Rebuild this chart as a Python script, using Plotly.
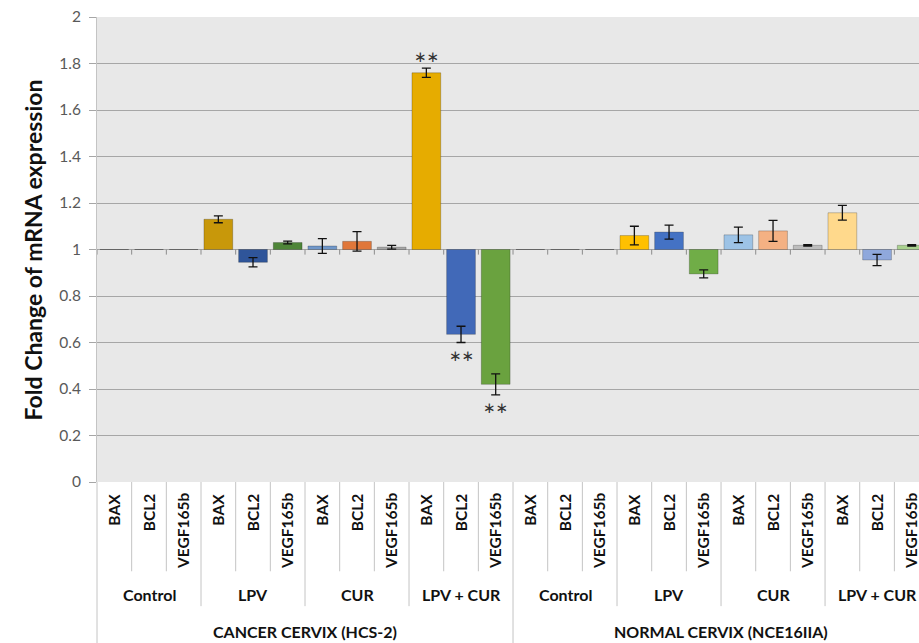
import plotly.graph_objects as go

# ---------------- data ----------------
cells = ["CANCER CERVIX (HCS-2)", "NORMAL CERVIX (NCE16IIA)"]
treatments = ["Control", "LPV", "CUR", "LPV + CUR"]
genes = ["BAX", "BCL2", "VEGF165b"]

cancer_values = [1.00, 1.00, 1.00,
                 1.13, 0.945, 1.03,
                 1.015, 1.035, 1.01,
                 1.76, 0.635, 0.42]
cancer_errors = [0.0, 0.0, 0.0,
                 0.015, 0.02, 0.006,
                 0.032, 0.042, 0.008,
                 0.02, 0.035, 0.045]
normal_values = [1.00, 1.00, 1.00,
                 1.06, 1.075, 0.895,
                 1.063, 1.08, 1.018,
                 1.158, 0.955, 1.018]
normal_errors = [0.0, 0.0, 0.0,
                 0.04, 0.03, 0.017,
                 0.033, 0.045, 0.003,
                 0.032, 0.024, 0.003]
cancer_sig = ["", "", "", "", "", "", "", "", "", "∗∗", "∗∗", "∗∗"]
normal_sig = ["", "", "", "", "", "", "", "", "", "", "", ""]

cancer_colors = ["#BF9000", "#2F5597", "#548235",
                 "#C8980A", "#2F559A", "#4E8538",
                 "#7097C9", "#E0773A", "#A6A6A6",
                 "#E6AC00", "#4169B8", "#6AA23F"]
normal_colors = ["#FFC000", "#4472C4", "#70AD47",
                 "#FFC000", "#4472C4", "#70AD47",
                 "#9DC3E6", "#F4B183", "#BDBDBD",
                 "#FFD98C", "#8FA8DC", "#A9D18E"]

values = cancer_values + normal_values
errors = cancer_errors + normal_errors
sig = cancer_sig + normal_sig
colors = cancer_colors + normal_colors
n = len(values)
xs = list(range(n))

FONT = "Lato"
GRID = "#A6A6A6"
DIV = "#C4C4C4"

fig = go.Figure()
fig.add_trace(go.Bar(
    x=xs, y=[v - 1 for v in values], base=[1] * n,
    marker=dict(color=colors, line=dict(color="rgba(0,0,0,0.22)", width=1)),
    width=0.83, hoverinfo="skip", showlegend=False,
))
fig.add_trace(go.Scatter(
    x=[x for x, e in zip(xs, errors) if e > 0],
    y=[v for v, e in zip(values, errors) if e > 0],
    mode="markers", marker=dict(size=0.1, color="rgba(0,0,0,0)"),
    error_y=dict(type="data", array=[e for e in errors if e > 0],
                 color="#111111", thickness=1.3, width=4.5),
    showlegend=False, hoverinfo="skip",
))

# significance marks
for x, v, e, s in zip(xs, values, errors, sig):
    if not s:
        continue
    if v >= 1:
        fig.add_annotation(x=x, y=v + e, xref="x", yref="y", text=s, showarrow=False,
                           yanchor="bottom", yshift=0,
                           font=dict(family="DejaVu Sans", size=15, color="#333333"))
    else:
        fig.add_annotation(x=x, y=v - e, xref="x", yref="y", text=s, showarrow=False,
                           yanchor="top", yshift=-2,
                           font=dict(family="DejaVu Sans", size=15, color="#333333"))

shapes = []
# small ticks on the baseline at 1
for i in range(n + 1):
    shapes.append(dict(type="line", xref="x", yref="y", x0=i - 0.5, x1=i - 0.5,
                       y0=1, y1=0.978, line=dict(color="#8C8C8C", width=1)))

ng = len(genes)
nt = len(treatments)
per_cell = ng * nt
for i in range(n + 1):
    xb = i - 0.5
    if i % per_cell == 0:
        y1 = -0.36
        if i == 0:
            continue
    elif i % ng == 0:
        y1 = -0.267
    else:
        y1 = -0.192
    shapes.append(dict(type="line", xref="x", yref="paper", x0=xb, x1=xb,
                       y0=0, y1=y1, line=dict(color=DIV, width=1)))
# left border extension below plot
shapes.append(dict(type="line", xref="paper", yref="paper", x0=0, x1=0,
                   y0=0, y1=-0.36, line=dict(color=DIV, width=1)))

# category labels
for ci, cell in enumerate(cells):
    for ti, tr in enumerate(treatments):
        for gi, g in enumerate(genes):
            idx = ci * per_cell + ti * ng + gi
            fig.add_annotation(x=idx, y=-0.02, xref="x", yref="paper", text=g,
                               textangle=-90, showarrow=False, xanchor="center",
                               yanchor="top",
                               font=dict(family=FONT, size=15.5, color="#111111",
                                         weight="bold"))
        center = ci * per_cell + ti * ng + (ng - 1) / 2
        fig.add_annotation(x=center, y=-0.2414, xref="x", yref="paper", text=tr,
                           showarrow=False, xanchor="center", yanchor="middle",
                           font=dict(family=FONT, size=16, color="#111111",
                                     weight="bold"))
    center = ci * per_cell + (per_cell - 1) / 2
    fig.add_annotation(x=center, y=-0.3208, xref="x", yref="paper", text=cell,
                       showarrow=False, xanchor="center", yanchor="middle",
                       font=dict(family=FONT, size=16, color="#111111",
                                 weight="bold"))

fig.add_annotation(x=-0.078, y=0.5, xref="paper", yref="paper",
                   text="Fold Change of mRNA expression", textangle=-90,
                   showarrow=False, xanchor="center", yanchor="middle",
                   font=dict(family=FONT, size=23, color="#111111", weight="bold"))

fig.update_layout(
    width=919, height=643,
    margin=dict(l=97, r=0, t=16.5, b=160.5),
    paper_bgcolor="white", plot_bgcolor="#E8E8E8",
    shapes=shapes,
    bargap=0.17,
    xaxis=dict(range=[-0.5, 23.21], showticklabels=False, showgrid=False,
               zeroline=False, ticks="", fixedrange=True),
    yaxis=dict(range=[0, 2], dtick=0.2, tick0=0, showgrid=True, gridcolor=GRID,
               gridwidth=1, zeroline=False, showline=True, linecolor=DIV,
               linewidth=1, ticks="outside", ticklen=7, tickcolor=GRID,
               tickformat="~g", automargin=False, ticklabeloverflow="allow",
               ticklabelstandoff=5,
               tickfont=dict(family=FONT, size=15.5, color="#595959")),
)

# remove the default page margin so the 919x643 figure fills the window exactly
fig.write_html(
    "out.html",
    config={"displayModeBar": False, "staticPlot": True},
    post_script="document.body.style.margin='0';"
                "document.documentElement.style.overflow='hidden';"
                "document.body.style.overflow='hidden';",
)
